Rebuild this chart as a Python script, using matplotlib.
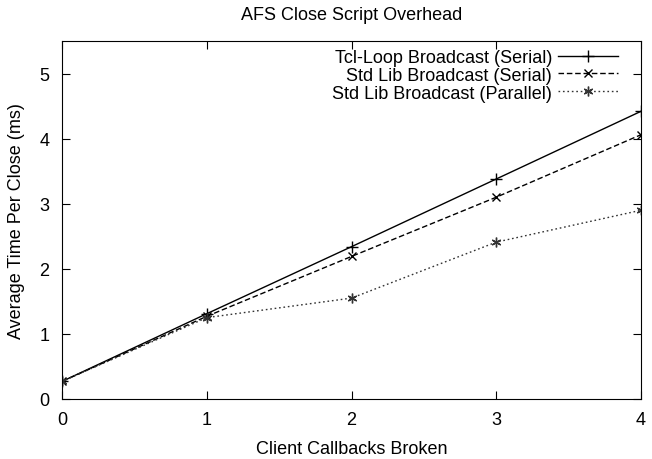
import matplotlib
matplotlib.use("Agg")
import matplotlib.pyplot as plt

plt.rcParams['font.family'] = ['Liberation Sans', 'DejaVu Sans']

x = [0, 1, 2, 3, 4]
tcl_serial = [0.27, 1.31, 2.34, 3.38, 4.42]
std_serial = [0.27, 1.27, 2.19, 3.10, 4.06]
std_parallel = [0.27, 1.25, 1.55, 2.41, 2.90]
labels = ["Tcl-Loop Broadcast (Serial)", "Std Lib Broadcast (Serial)", "Std Lib Broadcast (Parallel)"]
xticks = [0, 1, 2, 3, 4]
yticks = [0, 1, 2, 3, 4, 5]

fig = plt.figure(figsize=(6.52, 4.6), dpi=100)
ax = fig.add_axes([62/652, 60/460, (641-62)/652, (400-42)/460])

ax.plot(x, tcl_serial, color='black', lw=1.0, ls='-', marker='+', ms=8, mew=1.0, label=labels[0])
ax.plot(x, std_serial, color='black', lw=1.0, ls=(0, (4, 2)), marker='x', ms=6, mew=1.0, label=labels[1])
ax.plot(x, std_parallel, color='#333333', lw=1.0, ls=(0, (1.2, 2)), marker=(6, 2, 0), ms=7, mew=1.0, label=labels[2])

ax.set_xlim(0, 4)
ax.set_ylim(0, 5.5)
ax.set_xticks(xticks)
ax.set_yticks(yticks)
ax.tick_params(direction='in', top=True, right=True, length=6, labelsize=13, pad=9)
ax.set_title("AFS Close Script Overhead", fontsize=13, pad=16)
ax.set_xlabel("Client Callbacks Broken", fontsize=13, labelpad=8)
ax.set_ylabel("Average Time Per Close (ms)", fontsize=13, labelpad=10)

leg = ax.legend(loc='upper right', frameon=False, markerfirst=False, fontsize=13,
                handlelength=3.3, handletextpad=0.35, labelspacing=0.05,
                borderpad=0, borderaxespad=0, bbox_to_anchor=(0.96, 0.978))

fig.savefig("out.png", dpi=100)
